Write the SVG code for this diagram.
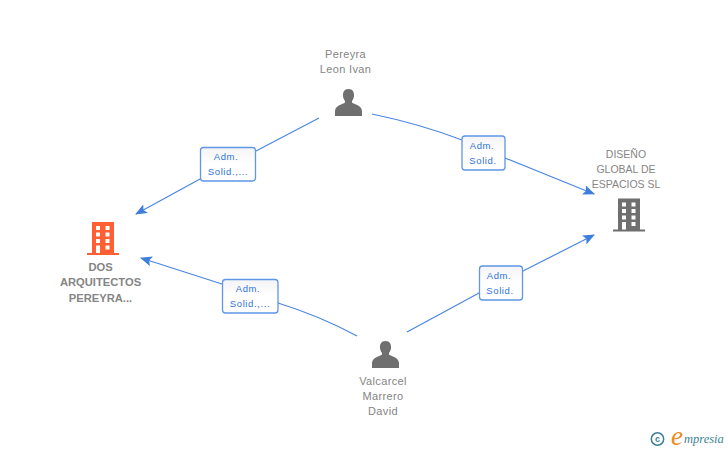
<svg xmlns="http://www.w3.org/2000/svg" width="728" height="450" viewBox="0 0 728 450">
<defs>
<linearGradient id="boxfill" x1="0" y1="0" x2="0" y2="1"><stop offset="0" stop-color="#f4f4f6"/><stop offset="0.5" stop-color="#ffffff"/></linearGradient>
<marker id="arrow" viewBox="0 0 12 10" refX="11" refY="5" markerWidth="12" markerHeight="10" markerUnits="userSpaceOnUse" orient="auto"><path d="M0 0L12 5L0 10L2.500 5Z" fill="#3f7fdc"/></marker>
<g id="person"><path d="M0 -13.500C-4.500 -13.500 -5.800 -10 -5.500 -6.500C-5.300 -4.300 -4.500 -2.800 -3.500 -1.600V0C-5.500 1.800 -13.300 2.500 -13.500 8.500V13.500H13.500V8.500C13.300 2.500 5.500 1.800 3.500 0V-1.600C4.500 -2.800 5.300 -4.300 5.500 -6.500C5.800 -10 4.500 -13.500 0 -13.500Z"/></g>
<g id="building"><path fill-rule="evenodd" d="M-11 -31H11V0H16V2H-16V0H-11ZM-7 -27V-23H-3V-27ZM2.500 -27V-23H6.500V-27ZM-7 -20.500V-16.500H-3V-20.500ZM2.500 -20.500V-16.500H6.500V-20.500ZM-7 -14V-10H-3V-14ZM2.500 -14V-10H6.500V-14ZM-7 -7.500V0H-3V-7.500ZM2.500 -7.500V-3.500H6.500V-7.500Z"/></g>
</defs>
<style>
.edge{fill:none;stroke:#4a86e0;stroke-width:1.200}
.box{fill:url(#boxfill);stroke:#5f96e6;stroke-width:1.300}
.bl{font:9.500px "Liberation Sans",Arial,sans-serif;fill:#2f73d8;text-anchor:middle;letter-spacing:.6px}
.nl{font:11px "Liberation Sans",Arial,sans-serif;fill:#858585;text-anchor:middle;letter-spacing:.35px}
.nb{font:bold 11.200px "Liberation Sans",Arial,sans-serif;fill:#858585;text-anchor:middle}
.ic{fill:#6f6f6f}
</style>
<rect width="728" height="450" fill="#ffffff"/>
<g id="connectors">
<path class="edge" d="M319 118L256 151"/>
<path class="edge" marker-end="url(#arrow)" d="M200 179L136 214"/>
<path class="edge" d="M372 114Q420 124 462 140"/>
<path class="edge" marker-end="url(#arrow)" d="M505 158L594 194"/>
<path class="edge" d="M407 332L479 293"/>
<path class="edge" marker-end="url(#arrow)" d="M523 271L594 235"/>
<path class="edge" d="M357 336Q320 316 278 303"/>
<path class="edge" marker-end="url(#arrow)" d="M222 284L141 258"/>
</g>
<g id="label-1"><rect class="box" x="200.500" y="147.500" width="55" height="33.500" rx="3"/><text class="bl" x="226" y="160">Adm.</text><text class="bl" x="228" y="175">Solid.,...</text></g>
<g id="label-2"><rect class="box" x="462" y="136" width="43" height="34" rx="3"/><text class="bl" x="482" y="149">Adm.</text><text class="bl" x="483" y="164">Solid.</text></g>
<g id="label-3"><rect class="box" x="479.500" y="266" width="43" height="34" rx="3"/><text class="bl" x="499" y="279">Adm.</text><text class="bl" x="500" y="294">Solid.</text></g>
<g id="label-4"><rect class="box" x="222.500" y="279.500" width="55.500" height="33.500" rx="3"/><text class="bl" x="248" y="292">Adm.</text><text class="bl" x="250" y="307">Solid.,...</text></g>
<g id="node-pereyra"><text class="nl" x="345.500" y="58">Pereyra</text><text class="nl" x="345.500" y="73">Leon Ivan</text><use href="#person" class="ic" x="348.500" y="102.500"/></g>
<g id="node-valcarcel"><text class="nl" x="383" y="385">Valcarcel</text><text class="nl" x="383" y="400">Marrero</text><text class="nl" x="383" y="415">David</text><use href="#person" class="ic" x="385.500" y="354.500"/></g>
<g id="node-dos"><use href="#building" fill="#ff5f33" x="103" y="253"/><text class="nb" x="100.500" y="271">DOS</text><text class="nb" x="100.500" y="286">ARQUITECTOS</text><text class="nb" x="100.500" y="302">PEREYRA...</text></g>
<g id="node-diseno"><text class="nl" x="626" y="158" style="letter-spacing:0;font-size:10.500px">DISEÑO</text><text class="nl" x="626" y="173" style="letter-spacing:0;font-size:10.500px">GLOBAL DE</text><text class="nl" x="626" y="188" style="letter-spacing:0;font-size:10.500px">ESPACIOS SL</text><use href="#building" class="ic" x="629" y="229.500"/></g>
<g id="brand"><circle cx="657.500" cy="439" r="6.200" fill="none" stroke="#3e7f96" stroke-width="1.500"/><text x="657.500" y="442" font-family="'Liberation Sans',sans-serif" font-size="9" font-weight="bold" fill="#3e7f96" text-anchor="middle">c</text><text x="671" y="445" font-family="'Liberation Serif',serif" font-style="italic" font-size="27" fill="#f08a1c">e</text><text x="684" y="443" font-family="'Liberation Serif',serif" font-style="italic" font-size="12.500" fill="#3e7f96">mpresia</text></g>
</svg>
